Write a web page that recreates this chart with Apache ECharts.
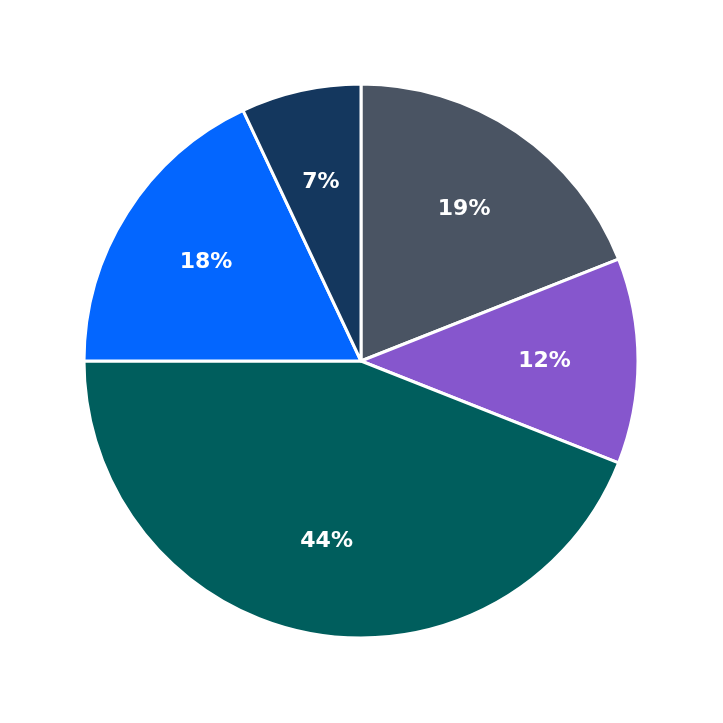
<!DOCTYPE html>
<html>
<head>
<meta charset="utf-8">
<script src="https://cdn.jsdelivr.net/npm/echarts@6/dist/echarts.min.js"></script>
<style>html,body{margin:0;padding:0;background:#fff}#root{width:723px;height:723px}</style>
</head>
<body>
<div id="root"></div>
<script>
var names = ['A', 'B', 'C', 'D', 'E'];
var values = [19, 12, 44, 18, 7];
var colors = ['#4a5463', '#8656cd', '#005e5d', '#0366ff', '#14375e'];

var myChart = echarts.init(document.getElementById('root'));
var data = names.map(function (n, i) {
    return { name: n, value: values[i], itemStyle: { color: colors[i] } };
});
var labelData = names.map(function (n, i) {
    return { name: n, value: values[i] };
});

var option = {
    animation: false,
    series: [
        {
            type: 'pie',
            center: [361, 361],
            radius: [0, 277],
            startAngle: 90,
            data: data,
            label: { show: false },
            labelLine: { show: false },
            itemStyle: { borderColor: '#fff', borderWidth: 3 }
        },
        {
            type: 'pie',
            center: [361, 361],
            radius: [84, 277],
            startAngle: 90,
            silent: true,
            percentPrecision: 0,
            data: labelData,
            itemStyle: { color: 'rgba(0,0,0,0)' },
            labelLine: { show: false },
            label: {
                show: true,
                position: 'inside',
                formatter: '{d}%',
                color: '#fff',
                fontSize: 22,
                fontWeight: 'bold',
                fontFamily: 'DejaVu Sans'
            }
        }
    ]
};
myChart.setOption(option);
</script>
</body>
</html>
